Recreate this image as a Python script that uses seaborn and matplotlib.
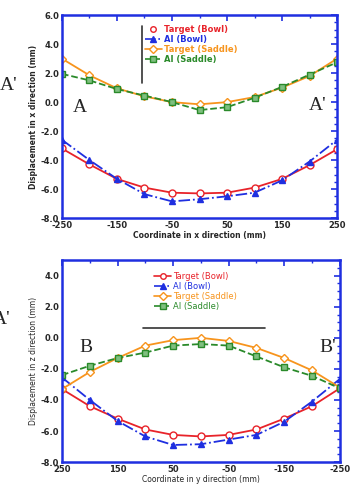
import matplotlib
matplotlib.use("Agg")
import matplotlib.pyplot as plt
from matplotlib.lines import Line2D
from matplotlib.ticker import MultipleLocator
import seaborn as sns
import pandas as pd

sns.set_theme(style="white")
plt.rcParams['font.family'] = ['DejaVu Sans']

# ---- data ----
x_coord = [-250, -200, -150, -100, -50, 0, 50, 100, 150, 200, 250]
top_target_bowl = [-3.2, -4.3, -5.3, -5.9, -6.25, -6.3, -6.25, -5.9, -5.3, -4.35, -3.25]
top_ai_bowl = [-2.6, -4.0, -5.3, -6.35, -6.85, -6.7, -6.5, -6.25, -5.4, -4.1, -2.6]
top_target_saddle = [3.0, 1.85, 0.95, 0.4, 0.0, -0.15, 0.0, 0.35, 1.0, 1.8, 3.0]
top_ai_saddle = [1.95, 1.5, 0.9, 0.45, 0.0, -0.55, -0.35, 0.3, 1.05, 1.9, 2.75]

y_coord = [250, 200, 150, 100, 50, 0, -50, -100, -150, -200, -250]
bot_target_bowl = [-3.3, -4.4, -5.2, -5.9, -6.25, -6.35, -6.25, -5.9, -5.2, -4.4, -3.25]
bot_ai_bowl = [-2.55, -4.0, -5.35, -6.35, -6.9, -6.85, -6.55, -6.25, -5.4, -4.1, -2.65]
bot_target_saddle = [-3.3, -2.2, -1.3, -0.5, -0.15, 0.0, -0.2, -0.65, -1.3, -2.1, -3.2]
bot_ai_saddle = [-2.4, -1.8, -1.3, -0.95, -0.5, -0.4, -0.5, -1.2, -1.9, -2.45, -3.25]

series_names = ["Target (Bowl)", "AI (Bowl)", "Target (Saddle)", "AI (Saddle)"]
top_xticks = [-250, -150, -50, 50, 150, 250]
bot_xticks = [250, 150, 50, -50, -150, -250]

RED = "#e8232a"
BLUE = "#1f2fe0"
ORANGE = "#f7941d"
GREEN = "#2a8a2a"
styles = [
    dict(color=RED, marker="o", linestyle="-", mfc="white", mec=RED),
    dict(color=BLUE, marker="^", linestyle="-.", mfc=BLUE, mec=BLUE),
    dict(color=ORANGE, marker="D", linestyle="-", mfc="white", mec=ORANGE),
    dict(color=GREEN, marker="s", linestyle="--", mfc="#7fbf7f", mec=GREEN),
]

fig = plt.figure(figsize=(3.5, 4.9), dpi=100)
ax1 = fig.add_axes([0.177, 0.555, 0.786, 0.414])
ax2 = fig.add_axes([0.177, 0.057, 0.794, 0.412])


def draw(ax, xs, ys_list):
    for name, ys, st in zip(series_names, ys_list, styles):
        df = pd.DataFrame({"x": xs, "y": ys})
        sns.lineplot(data=df, x="x", y="y", ax=ax, color=st["color"],
                     linestyle=st["linestyle"], marker=st["marker"],
                     markersize=5 if st["marker"] != "D" else 4,
                     markerfacecolor=st["mfc"], markeredgecolor=st["mec"],
                     markeredgewidth=1.0, linewidth=1.3, sort=False,
                     estimator=None)


def style_axes(ax, xticks, ylim, yticks):
    for s in ax.spines.values():
        s.set_color(BLUE)
        s.set_linewidth(1.8)
    ax.set_xticks(xticks)
    ax.set_xticklabels([str(t) for t in xticks], fontsize=6, fontweight="bold")
    ax.set_yticks(yticks)
    ax.set_yticklabels([f"{t:.1f}" for t in yticks], fontsize=6, fontweight="bold")
    ax.set_ylim(*ylim)
    ax.xaxis.set_minor_locator(MultipleLocator(50))
    ax.yaxis.set_minor_locator(MultipleLocator(0.5))
    ax.tick_params(which="both", direction="in", top=True, right=True,
                   color=BLUE, pad=2)
    ax.tick_params(which="major", length=4, width=1.2)
    ax.tick_params(which="minor", length=2, width=1.0)


draw(ax1, x_coord, [top_target_bowl, top_ai_bowl, top_target_saddle, top_ai_saddle])
ax1.set_xlim(-250, 250)
style_axes(ax1, top_xticks, (-8, 6), [-8, -6, -4, -2, 0, 2, 4, 6])
ax1.set_xlabel("Coordinate in x direction (mm)", fontsize=5.5, fontweight="bold", labelpad=1)
ax1.set_ylabel("Displacement in x direction (mm)", fontsize=5.5, fontweight="bold", labelpad=2)

draw(ax2, y_coord, [bot_target_bowl, bot_ai_bowl, bot_target_saddle, bot_ai_saddle])
ax2.set_xlim(250, -250)
style_axes(ax2, bot_xticks, (-8, 5), [-8, -6, -4, -2, 0, 2, 4])
ax2.set_xlabel("Coordinate in y direction (mm)", fontsize=5.5, labelpad=1)
ax2.set_ylabel("Displacement in z direction (mm)", fontsize=5.5, labelpad=2)


def handles(first_line=True):
    hs = []
    for i, st in enumerate(styles):
        ls = st["linestyle"] if (first_line or i > 0) else "none"
        hs.append(Line2D([], [], color=st["color"], linestyle=ls, marker=st["marker"],
                         markersize=4, markerfacecolor=st["mfc"],
                         markeredgecolor=st["mec"], linewidth=1.2))
    return hs


leg1 = ax1.legend(handles(first_line=False), series_names, loc="upper left",
                  bbox_to_anchor=(0.29, 0.97), frameon=False,
                  handlelength=2.0, labelspacing=0.15, borderaxespad=0,
                  handletextpad=0.3, prop={"weight": "bold", "size": 6})
for t, st in zip(leg1.get_texts(), styles):
    t.set_color(st["color"])
ax1.plot([0.29, 0.29], [0.665, 0.946], transform=ax1.transAxes, color="#333333", lw=1.2)

leg2 = ax2.legend(handles(), series_names, loc="upper left",
                  bbox_to_anchor=(0.32, 0.96), frameon=False,
                  handlelength=2.0, labelspacing=0.15, borderaxespad=0,
                  handletextpad=0.3, prop={"size": 6})
for t, st in zip(leg2.get_texts(), styles):
    t.set_color(st["color"])
ax2.plot([0.29, 0.73], [0.663, 0.663], transform=ax2.transAxes, color="#333333", lw=1.2)

serif = ["Liberation Serif", "DejaVu Serif"]
fig.text(0.0, 1 - 85 / 490, "A'", family=serif, fontsize=14, va="center", ha="left")
fig.text(80 / 350, 1 - 107 / 490, "A", family=serif, fontsize=14, va="center", ha="center")
fig.text(318 / 350, 1 - 105 / 490, "A'", family=serif, fontsize=14, va="center", ha="center")
fig.text(-0.02, 1 - 320 / 490, "A'", family=serif, fontsize=14, va="center", ha="left")
fig.text(86 / 350, 1 - 348 / 490, "B", family=serif, fontsize=14, va="center", ha="center")
fig.text(328 / 350, 1 - 348 / 490, "B'", family=serif, fontsize=14, va="center", ha="center")

fig.savefig("out.png", dpi=100)
